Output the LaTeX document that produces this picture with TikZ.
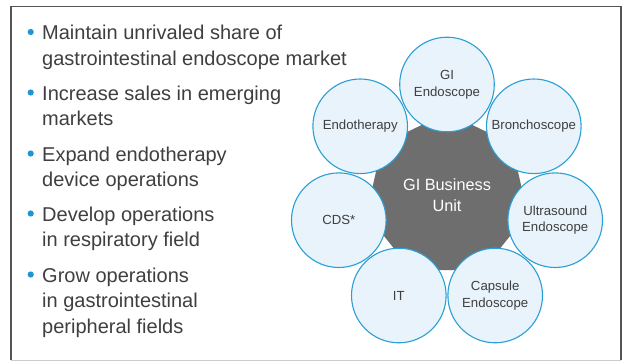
\documentclass[tikz,border=0pt]{standalone}
\usepackage{fontspec}
\setmainfont{Liberation Sans}
\usetikzlibrary{shapes.geometric}
\definecolor{ringblue}{HTML}{2A9FD6}
\definecolor{ringfill}{HTML}{E8F3FB}
\definecolor{hubgray}{HTML}{6E6E6E}
\definecolor{txtgray}{HTML}{3F3F3F}
\definecolor{framegray}{HTML}{555555}
\definecolor{dotblue}{HTML}{1E96D4}
\begin{document}
\begin{tikzpicture}[x=1pt,y=-1pt,
  % a multi-line text node is anchored at the baseline of its last line
  bullettext/.style={anchor=base west, align=left, inner sep=0, text=txtgray,
    font=\fontsize{20}{25.5}\selectfont},
  bulletdot/.style={circle, fill=dotblue, inner sep=0, minimum size=6.2pt},
  unit/.style={circle, draw=ringblue, fill=ringfill, line width=1.1pt,
    minimum size=94.6pt, inner sep=0, align=center, text=txtgray,
    font=\fontsize{13.2}{16.7}\selectfont},
  hub/.style={regular polygon, regular polygon sides=7, fill=hubgray,
    minimum size=165.4pt, inner sep=0, align=center, text=white,
    font=\fontsize{16.3}{20.7}\selectfont}]
\useasboundingbox (0,0) rectangle (623,361);
\fill[white] (0,0) rectangle (623,361);
% frame
\draw[framegray, line width=1.3pt] (11,360) -- (11,6.5) -- (621,6.5) -- (621,360);
\draw[black!20, line width=1pt] (11,360) -- (621,360);

% goals (positions give the last line's baseline)
\node[bullettext] (b1) at (42,65)    {Maintain unrivaled share of\\gastrointestinal endoscope market};
\node[bullettext] (b2) at (42,125.5) {Increase sales in emerging\\markets};
\node[bullettext] (b3) at (42,186.5) {Expand endotherapy\\device operations};
\node[bullettext] (b4) at (42,246.5) {Develop operations\\in respiratory field};
\node[bullettext] (b5) at (42,333)   {Grow operations\\in gastrointestinal\\peripheral fields};
\foreach \y [count=\i] in {39.5,100,161,221,282}
  \node[bulletdot] (d\i) at (30.7,\y-7.5) {};

% business unit and its fields
\node[hub] (hub) at (447,195.5) {GI Business\\Unit};
\node[unit] (gi)    at (447,84.5)    {GI\\Endoscope};
\node[unit] (endo)  at (360.2,126.3) {Endotherapy};
\node[unit] (bron)  at (533.8,126.3) {Bronchoscope};
\node[unit] (cds)   at (338.8,220.2) {CDS*};
\node[unit] (us)    at (555.2,220.2) {Ultrasound\\Endoscope};
\node[unit] (it)    at (398.8,295.5) {IT};
\node[unit] (caps)  at (495.2,295.5) {Capsule\\Endoscope};
\end{tikzpicture}
\end{document}
